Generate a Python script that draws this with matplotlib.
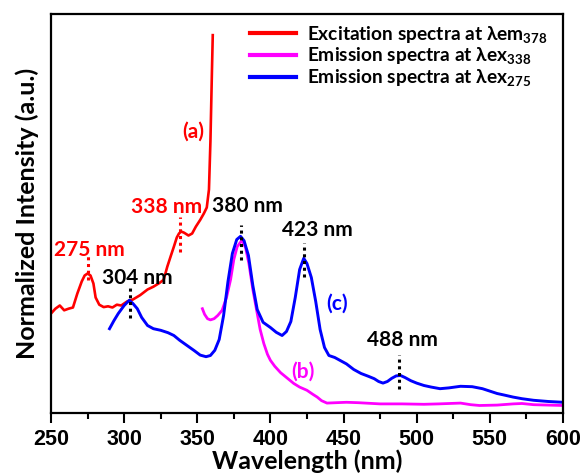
import matplotlib
matplotlib.use("Agg")
import matplotlib.pyplot as plt

plt.rcParams['font.family'] = ['Lato', 'DejaVu Sans']
plt.rcParams['mathtext.fontset'] = 'custom'
plt.rcParams['mathtext.rm'] = 'Lato:bold'
plt.rcParams['mathtext.default'] = 'rm'

# --- data (normalized intensity, axis 0..1) ---
red_x = [250, 253, 256, 259, 262, 265, 268, 271, 273, 275, 277, 279, 280.5, 283, 286, 289,
         292, 295, 298, 302, 306, 311, 316, 320, 324, 327, 329.5, 332, 334, 336, 337.5, 339,
         341, 344, 346.5, 349, 352, 354.5, 356.5, 358, 359, 360, 360.6]
red_y = [0.25, 0.262, 0.27, 0.258, 0.262, 0.265, 0.30, 0.33, 0.345, 0.35, 0.345, 0.325, 0.29,
         0.272, 0.266, 0.268, 0.265, 0.272, 0.27, 0.28, 0.285, 0.296, 0.31, 0.317, 0.326, 0.334,
         0.367, 0.395, 0.417, 0.44, 0.45, 0.455, 0.452, 0.445, 0.45, 0.467, 0.484, 0.50, 0.515,
         0.56, 0.68, 0.85, 0.946]

mag_x = [353.5, 355, 357, 359, 361.5, 364, 367, 370, 372.8, 375, 377.3, 380.5, 383, 385.3, 388,
         391, 393, 395.5, 398, 400, 403, 407, 411, 416, 420, 425, 429, 432, 435, 438.7, 445, 452,
         460, 475, 490, 505, 515, 530, 537, 543, 555, 566, 572, 580, 590, 600]
mag_y = [0.262, 0.248, 0.237, 0.234, 0.237, 0.245, 0.258, 0.29, 0.335, 0.385, 0.417, 0.433,
         0.415, 0.375, 0.31, 0.25, 0.21, 0.175, 0.148, 0.133, 0.118, 0.102, 0.09, 0.075, 0.066,
         0.058, 0.048, 0.041, 0.032, 0.026, 0.027, 0.028, 0.027, 0.024, 0.024, 0.023, 0.024,
         0.026, 0.022, 0.02, 0.021, 0.024, 0.025, 0.022, 0.021, 0.02]

blue_x = [290, 293, 296, 300, 303.5, 306, 309, 312, 316, 320, 325, 330, 334, 338, 343, 348, 352,
          356, 359, 362, 365, 368, 371, 374, 377, 379.6, 382, 385, 388, 391, 395, 400, 404, 408,
          411, 414, 417, 420, 422.8, 425, 428, 431, 434, 437, 440, 444, 448, 452, 457, 462, 467,
          471, 474, 477, 480, 483, 486, 489, 492, 496, 500, 505, 510, 516, 522, 530, 538, 545,
          550, 555, 560, 566, 572, 580, 590, 600]
blue_y = [0.212, 0.232, 0.25, 0.27, 0.283, 0.275, 0.262, 0.24, 0.22, 0.212, 0.208, 0.202, 0.195,
          0.183, 0.17, 0.157, 0.146, 0.142, 0.145, 0.158, 0.185, 0.245, 0.33, 0.40, 0.435, 0.443,
          0.432, 0.395, 0.32, 0.26, 0.228, 0.215, 0.203, 0.195, 0.205, 0.23, 0.29, 0.36, 0.388,
          0.375, 0.34, 0.28, 0.21, 0.165, 0.145, 0.14, 0.132, 0.124, 0.11, 0.10, 0.093, 0.087,
          0.08, 0.076, 0.08, 0.088, 0.094, 0.095, 0.09, 0.082, 0.076, 0.07, 0.066, 0.062, 0.064,
          0.068, 0.067, 0.062, 0.056, 0.05, 0.046, 0.041, 0.037, 0.033, 0.03, 0.028]

labels = ["Excitation spectra at λem$_{378}$",
          "Emission spectra at λex$_{338}$",
          "Emission spectra at λex$_{275}$"]

# peak annotations
peak_nm = [275, 338, 304, 380, 423, 488]
peak_text = ["275 nm", "338 nm", "304 nm", "380 nm", "423 nm", "488 nm"]
peak_color = ["#ff0000", "#ff0000", "black", "black", "black", "black"]
peak_text_x = [276, 329, 309, 384, 432, 490]
peak_text_y = [0.408, 0.516, 0.338, 0.518, 0.458, 0.183]
dot_top = [0.396, 0.492, 0.321, 0.471, 0.426, 0.146]
dot_bot = [0.334, 0.405, 0.238, 0.384, 0.342, 0.060]

curve_tags = ["(a)", "(b)", "(c)"]
tag_x = [347, 422, 445.5]
tag_y = [0.705, 0.104, 0.274]
tag_color = ["#ff0000", "#ff00ff", "#0000ff"]

fig = plt.figure(figsize=(5.83, 4.75), dpi=100)
ax = fig.add_axes([0.0875, 0.1295, 0.878, 0.842])

ax.plot(red_x, red_y, color="#ff0000", lw=1.9, label=labels[0])
ax.plot(mag_x, mag_y, color="#ff00ff", lw=2.0, label=labels[1])
ax.plot(blue_x, blue_y, color="#0000ff", lw=2.1, label=labels[2])

for nm, t, c, tx, ty, d0, d1 in zip(peak_nm, peak_text, peak_color, peak_text_x, peak_text_y,
                                     dot_top, dot_bot):
    ax.plot([nm, nm], [d1, d0], color=c, lw=2.2, ls=(0, (1, 1.2)))
    ax.text(tx, ty, t, color=c, fontsize=15, fontweight='bold', ha='center', va='center')

for t, x, y, c in zip(curve_tags, tag_x, tag_y, tag_color):
    ax.text(x, y, t, color=c, fontsize=15, fontweight='bold', ha='center', va='center')

ax.set_xlim(250, 600)
ax.set_ylim(0, 1)
ax.set_xticks([250, 300, 350, 400, 450, 500, 550, 600])
ax.set_xticks([275, 325, 375, 425, 475, 525, 575], minor=True)
ax.set_yticks([])
for lab in ax.get_xticklabels():
    lab.set_fontfamily('Liberation Sans')
    lab.set_fontweight('bold')
    lab.set_fontsize(15.5)
ax.tick_params(axis='x', which='major', direction='out', length=7, width=1.5, pad=4)
ax.tick_params(axis='x', which='minor', direction='out', length=4, width=1.5)
for s in ax.spines.values():
    s.set_linewidth(1.6)

ax.set_xlabel("Wavelength (nm)", fontsize=18, fontweight='bold', labelpad=0)
ax.set_ylabel("Normalized Intensity (a.u.)", fontsize=18, fontweight='bold', labelpad=9)

leg = ax.legend(loc='upper left', bbox_to_anchor=(0.389, 0.975), frameon=False,
                fontsize=13.8, handlelength=2.4, handletextpad=0.55, labelspacing=0.05,
                borderpad=0, borderaxespad=0)
for t in leg.get_texts():
    t.set_fontweight('bold')
for h in leg.get_lines():
    h.set_linewidth(3)

fig.savefig("out.png", dpi=100)
